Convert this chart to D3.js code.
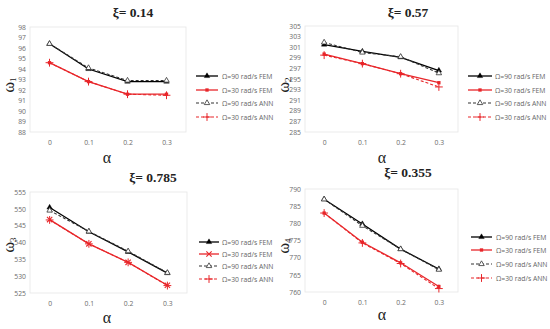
<!DOCTYPE html>
<html><head>
<meta charset="UTF-8">
<title>Natural frequencies vs alpha</title>
<style>
  body { margin: 0; padding: 0; background: #fff; }
  svg { display: block; }
  .tick text { font-family: "Open Sans", "Liberation Sans", sans-serif; font-size: 6.8px; fill: #6b6b6b; }
  .lg { font-family: "Open Sans", "Liberation Sans", sans-serif; font-size: 6.8px; fill: #666; }
  .ttl { font-family: "Liberation Serif", serif; font-weight: bold; font-size: 13.5px; fill: #222; }
  .axl { font-family: "Liberation Serif", serif; font-size: 16px; fill: #222; }
</style>
</head>
<body>
<div id="chart"></div>
<script src="https://d3js.org/d3.v7.min.js"></script>
<script>
  const alphaLabels = ["0", "0.1", "0.2", "0.3"];
  const seriesNames = ["Ω=90 rad/s FEM", "Ω=30 rad/s FEM", "Ω=90 rad/s ANN", "Ω=30 rad/s ANN"];

  // panel 1, xi = 0.14
  const w1Fem90 = [96.4, 94.0, 92.8, 92.8];
  const w1Fem30 = [94.6, 92.8, 91.6, 91.6];
  const w1Ann90 = [96.4, 94.1, 92.9, 92.9];
  const w1Ann30 = [94.6, 92.8, 91.6, 91.5];
  const w1Ticks = [88, 89, 90, 91, 92, 93, 94, 95, 96, 97, 98];

  // panel 2, xi = 0.57
  const w2Fem90 = [301.5, 300.2, 299.1, 296.6];
  const w2Fem30 = [299.7, 297.9, 296.0, 294.3];
  const w2Ann90 = [301.9, 300.0, 299.2, 296.1];
  const w2Ann30 = [299.5, 297.9, 296.0, 293.5];
  const w2Ticks = [285, 287, 289, 291, 293, 295, 297, 299, 301, 303, 305];

  // panel 3, xi = 0.785
  const w3Fem90 = [550.4, 543.2, 537.2, 530.9];
  const w3Fem30 = [546.8, 539.6, 534.1, 527.3];
  const w3Ann90 = [549.5, 543.3, 537.4, 531.0];
  const w3Ann30 = [546.7, 539.6, 534.1, 527.2];
  const w3Ticks = [525, 530, 535, 540, 545, 550, 555];

  // panel 4, xi = 0.355
  const w4Fem90 = [787.0, 779.8, 772.5, 766.7];
  const w4Fem30 = [783.0, 774.5, 768.5, 761.6];
  const w4Ann90 = [787.0, 779.3, 772.5, 766.5];
  const w4Ann30 = [783.0, 774.3, 768.3, 761.0];
  const w4Ticks = [760, 765, 770, 775, 780, 785, 790];

  const panels = [
    { title: "ξ= 0.14", sub: "1", ox: 0, oy: 0, l: 30, r: 186, t: 27, b: 132, tx: 133, ty: 17, ay: 163, ly: 85,
      leg: { x1: 196, x2: 218, tx: 222, ys: [76, 90, 103, 117] },
      data: [w1Fem90, w1Fem30, w1Ann90, w1Ann30], ticks: w1Ticks, mark30: "square" },
    { title: "ξ= 0.57", sub: "2", ox: 275, oy: 0, l: 30, r: 183, t: 26, b: 132, tx: 133, ty: 17, ay: 163, ly: 85,
      leg: { x1: 193, x2: 217, tx: 220, ys: [76, 90, 103, 117] },
      data: [w2Fem90, w2Fem30, w2Ann90, w2Ann30], ticks: w2Ticks, mark30: "square" },
    { title: "ξ= 0.785", sub: "3", ox: 0, oy: 165, l: 30, r: 187, t: 27, b: 128, tx: 153, ty: 17, ay: 158, ly: 80,
      leg: { x1: 199, x2: 219, tx: 222, ys: [77, 89, 101, 114] },
      data: [w3Fem90, w3Fem30, w3Ann90, w3Ann30], ticks: w3Ticks, mark30: "times" },
    { title: "ξ= 0.355", sub: "4", ox: 275, oy: 165, l: 30, r: 183, t: 24, b: 127, tx: 133, ty: 12, ay: 155, ly: 81,
      leg: { x1: 196, x2: 217, tx: 221, ys: [72, 85, 99, 113] },
      data: [w4Fem90, w4Fem30, w4Ann90, w4Ann30], ticks: w4Ticks, mark30: "square" }
  ];

  const styles = [
    { color: "#000", dash: null, width: 1.3, sym: "tri", fill: "#000" },
    { color: "#e8262a", dash: null, width: 1.3, sym: "sq", fill: "#e8262a" },
    { color: "#333", dash: "3,2", width: 1.1, sym: "tri", fill: "#fff" },
    { color: "#e8262a", dash: "3,2", width: 1.1, sym: "plus", fill: "none" }
  ];

  const svg = d3.select("#chart").append("svg")
    .attr("width", 550)
    .attr("height", 329);

  function drawSymbol(g, st, p, cx, cy) {
    let d, fill = st.fill, sw = 0;
    if (st.sym === "tri") {
      d = d3.symbol().type(d3.symbolTriangle).size(13)();
      sw = st.fill === "#fff" ? 0.8 : 0.4;
    } else if (st.sym === "plus") {
      d = d3.symbol().type(d3.symbolPlus).size(22)();
      fill = "none"; sw = 1;
    } else if (p.mark30 === "times") {
      d = d3.symbol().type(d3.symbolTimes).size(20)();
      fill = "none"; sw = 1.1;
    } else {
      d = d3.symbol().type(d3.symbolSquare).size(11)();
    }
    g.append("path")
      .attr("transform", `translate(${cx},${cy})`)
      .attr("d", d)
      .attr("fill", fill)
      .attr("stroke", st.color)
      .attr("stroke-width", sw);
  }

  panels.forEach(p => {
    const g = svg.append("g").attr("transform", `translate(${p.ox},${p.oy})`);

    const x = d3.scalePoint().domain(alphaLabels).range([p.l, p.r]).padding(0.5);
    const y = d3.scaleLinear().domain(d3.extent(p.ticks)).range([p.b, p.t]);

    g.append("rect")
      .attr("x", p.l).attr("y", p.t)
      .attr("width", p.r - p.l).attr("height", p.b - p.t)
      .attr("fill", "none").attr("stroke", "#e6e6e6").attr("stroke-width", 0.8);

    const yAxis = g.append("g")
      .attr("transform", `translate(${p.l - 3},0)`)
      .call(d3.axisLeft(y).tickValues(p.ticks).tickSize(0).tickPadding(1).tickFormat(d3.format("d")));
    yAxis.select(".domain").remove();

    const xAxis = g.append("g")
      .attr("transform", `translate(0,${p.b + 5})`)
      .call(d3.axisBottom(x).tickSize(0).tickPadding(3));
    xAxis.select(".domain").remove();

    g.append("text").attr("class", "ttl")
      .attr("x", p.tx).attr("y", p.ty).attr("text-anchor", "middle")
      .text(p.title);

    g.append("text").attr("class", "axl")
      .attr("x", 107).attr("y", p.ay).attr("text-anchor", "middle")
      .text("α");

    const yl = g.append("text").attr("class", "axl")
      .attr("font-size", "14px")
      .attr("transform", `translate(14,${p.ly}) rotate(-90)`)
      .attr("text-anchor", "middle");
    yl.append("tspan").text("ω");
    yl.append("tspan").attr("font-size", "9px").attr("dy", 2).text(p.sub);

    const line = d3.line()
      .x((d, i) => x(alphaLabels[i]))
      .y(d => y(d));

    p.data.forEach((vals, k) => {
      const st = styles[k];
      g.append("path")
        .datum(vals)
        .attr("d", line)
        .attr("fill", "none")
        .attr("stroke", st.color)
        .attr("stroke-width", st.width)
        .attr("stroke-dasharray", st.dash);

      vals.forEach((v, i) => drawSymbol(g, st, p, x(alphaLabels[i]), y(v)));

      // legend entry
      const ly = p.leg.ys[k];
      g.append("line")
        .attr("x1", p.leg.x1).attr("x2", p.leg.x2)
        .attr("y1", ly).attr("y2", ly)
        .attr("stroke", st.color)
        .attr("stroke-width", st.width)
        .attr("stroke-dasharray", st.dash);
      drawSymbol(g, st, p, (p.leg.x1 + p.leg.x2) / 2, ly);
      g.append("text").attr("class", "lg")
        .attr("x", p.leg.tx).attr("y", ly + 2.5)
        .text(seriesNames[k]);
    });
  });
</script>
</body></html>
